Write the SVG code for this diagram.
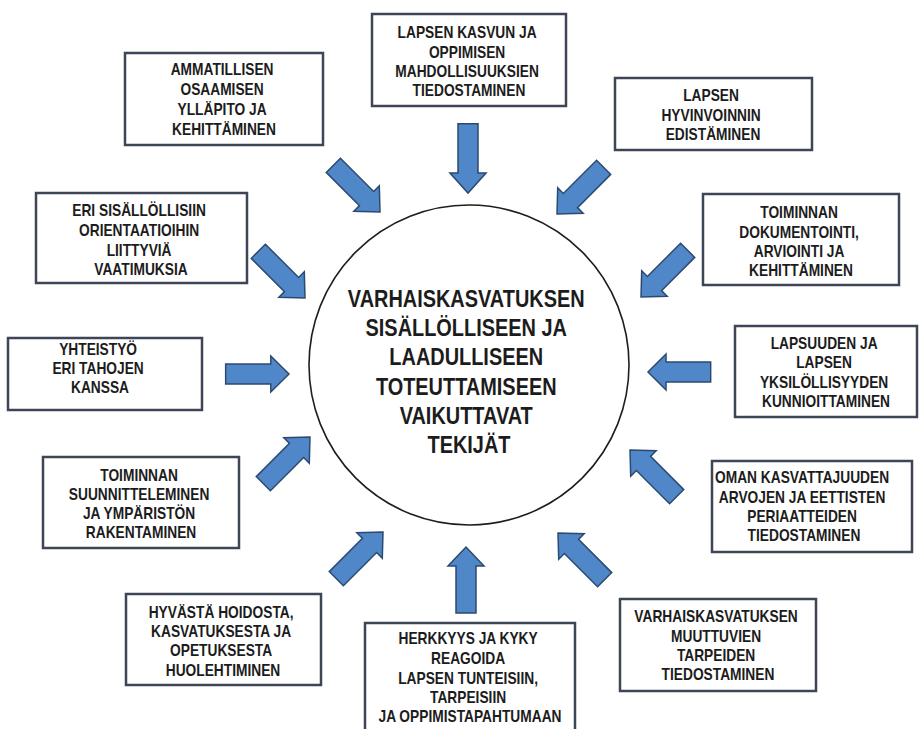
<svg xmlns="http://www.w3.org/2000/svg" xmlns:xlink="http://www.w3.org/1999/xlink" width="920" height="729" viewBox="0 0 920 729">
<style>
.box{fill:#fff;stroke:#3d4556;stroke-width:2.5}
.lbl{font-family:"Liberation Sans",Arial,sans-serif;font-weight:bold;font-size:16px;fill:#1c1c1c;text-anchor:middle}
.ctr{font-size:24px}
.arr{fill:#4f87c8;stroke:#2c4a70;stroke-width:1.5;stroke-linejoin:miter}
.circ{fill:#fff;stroke:#1e1e1e;stroke-width:1.6}
</style>
<defs>
<path id="arrow" d="M-66,-10 L-19,-10 L-19,-18 L0,0 L-19,18 L-19,10 L-66,10 Z"/>
</defs>
<rect x="0" y="0" width="920" height="729" fill="#fff"/>

<g id="center">
<circle class="circ" cx="469" cy="365" r="160"/>
<text class="lbl ctr" transform="translate(469 0) scale(0.83 1)">
<tspan x="0" y="307">VARHAISKASVATUKSEN</tspan>
<tspan x="0" y="336">SISÄLLÖLLISEEN JA</tspan>
<tspan x="0" y="365">LAADULLISEEN</tspan>
<tspan x="0" y="395">TOTEUTTAMISEEN</tspan>
<tspan x="0" y="424">VAIKUTTAVAT</tspan>
<tspan x="0" y="453">TEKIJÄT</tspan>
</text>
</g>

<g id="n-kasvun">
<rect class="box" x="372" y="14" width="194" height="92"/>
<text class="lbl" transform="translate(469 0) scale(0.86 1)">
<tspan x="0" y="38">LAPSEN KASVUN JA</tspan>
<tspan x="0" y="58">OPPIMISEN</tspan>
<tspan x="0" y="77">MAHDOLLISUUKSIEN</tspan>
<tspan x="0" y="96">TIEDOSTAMINEN</tspan>
</text>
</g>

<g id="n-ammatillisen">
<rect class="box" x="125" y="53" width="198" height="92"/>
<text class="lbl" transform="translate(224 0) scale(0.86 1)">
<tspan x="0" y="75">AMMATILLISEN</tspan>
<tspan x="0" y="95">OSAAMISEN</tspan>
<tspan x="0" y="115">YLLÄPITO JA</tspan>
<tspan x="0" y="135">KEHITTÄMINEN</tspan>
</text>
</g>

<g id="n-hyvinvointi">
<rect class="box" x="615" y="78" width="197" height="72"/>
<text class="lbl" transform="translate(713 0) scale(0.86 1)">
<tspan x="0" y="101">LAPSEN</tspan>
<tspan x="0" y="121">HYVINVOINNIN</tspan>
<tspan x="0" y="140">EDISTÄMINEN</tspan>
</text>
</g>

<g id="n-dokumentointi">
<rect class="box" x="703" y="194" width="196" height="91"/>
<text class="lbl" transform="translate(801 0) scale(0.86 1)">
<tspan x="0" y="218">TOIMINNAN</tspan>
<tspan x="0" y="238">DOKUMENTOINTI,</tspan>
<tspan x="0" y="257">ARVIOINTI JA</tspan>
<tspan x="0" y="276">KEHITTÄMINEN</tspan>
</text>
</g>

<g id="n-orientaatiot">
<rect class="box" x="36" y="193" width="211" height="90"/>
<text class="lbl" transform="translate(141 0) scale(0.86 1)">
<tspan x="0" y="216">ERI SISÄLLÖLLISIIN</tspan>
<tspan x="0" y="236">ORIENTAATIOIHIN</tspan>
<tspan x="0" y="256">LIITTYVIÄ</tspan>
<tspan x="0" y="275">VAATIMUKSIA</tspan>
</text>
</g>

<g id="n-yhteistyo">
<rect class="box" x="8" y="338" width="194" height="72"/>
<text class="lbl" transform="translate(100 0) scale(0.86 1)">
<tspan x="0" y="355">YHTEISTYÖ</tspan>
<tspan x="0" y="374">ERI TAHOJEN</tspan>
<tspan x="0" y="393">KANSSA</tspan>
</text>
</g>

<g id="n-suunnittelu">
<rect class="box" x="43" y="457" width="196" height="91"/>
<text class="lbl" transform="translate(141 0) scale(0.86 1)">
<tspan x="0" y="481">TOIMINNAN</tspan>
<tspan x="0" y="500">SUUNNITTELEMINEN</tspan>
<tspan x="0" y="519">JA YMPÄRISTÖN</tspan>
<tspan x="0" y="538">RAKENTAMINEN</tspan>
</text>
</g>

<g id="n-lapsuus">
<rect class="box" x="735" y="326" width="182" height="91"/>
<text class="lbl" transform="translate(826 0) scale(0.86 1)">
<tspan x="0" y="349">LAPSUUDEN JA</tspan>
<tspan x="0" y="368">LAPSEN</tspan>
<tspan x="0" y="388">YKSILÖLLISYYDEN</tspan>
<tspan x="0" y="407">KUNNIOITTAMINEN</tspan>
</text>
</g>

<g id="n-kasvattajuus">
<rect class="box" x="712" y="461" width="200" height="91"/>
<text class="lbl" transform="translate(804 0) scale(0.86 1)">
<tspan x="0" y="483">OMAN KASVATTAJUUDEN</tspan>
<tspan x="0" y="503">ARVOJEN JA EETTISTEN</tspan>
<tspan x="0" y="522">PERIAATTEIDEN</tspan>
<tspan x="0" y="541">TIEDOSTAMINEN</tspan>
</text>
</g>

<g id="n-hoito">
<rect class="box" x="126" y="594" width="195" height="91"/>
<text class="lbl" transform="translate(223 0) scale(0.86 1)">
<tspan x="0" y="618">HYVÄSTÄ HOIDOSTA,</tspan>
<tspan x="0" y="637">KASVATUKSESTA JA</tspan>
<tspan x="0" y="656">OPETUKSESTA</tspan>
<tspan x="0" y="676">HUOLEHTIMINEN</tspan>
</text>
</g>

<g id="n-herkkyys">
<rect class="box" x="365" y="623" width="210" height="125"/>
<text class="lbl" transform="translate(470 0) scale(0.86 1)">
<tspan x="0" y="644">HERKKYYS JA KYKY</tspan>
<tspan x="0" y="664">REAGOIDA</tspan>
<tspan x="0" y="684">LAPSEN TUNTEISIIN,</tspan>
<tspan x="0" y="703">TARPEISIIN</tspan>
<tspan x="0" y="722">JA OPPIMISTAPAHTUMAAN</tspan>
</text>
</g>

<g id="n-muuttuvat">
<rect class="box" x="620" y="599" width="196" height="92"/>
<text class="lbl" transform="translate(718 0) scale(0.86 1)">
<tspan x="0" y="622">VARHAISKASVATUKSEN</tspan>
<tspan x="0" y="642">MUUTTUVIEN</tspan>
<tspan x="0" y="661">TARPEIDEN</tspan>
<tspan x="0" y="680">TIEDOSTAMINEN</tspan>
</text>
</g>

<g id="connectors" class="arr">
<use xlink:href="#arrow" href="#arrow" transform="translate(468 193) rotate(90) scale(1.05 1)"/>
<use xlink:href="#arrow" href="#arrow" transform="translate(380 212) rotate(45)"/>
<use xlink:href="#arrow" href="#arrow" transform="translate(557 214) rotate(135)"/>
<use xlink:href="#arrow" href="#arrow" transform="translate(641 297) rotate(135)"/>
<use xlink:href="#arrow" href="#arrow" transform="translate(305 298) rotate(45)"/>
<use xlink:href="#arrow" href="#arrow" transform="translate(289 374) rotate(0) scale(0.96 1)"/>
<use xlink:href="#arrow" href="#arrow" transform="translate(310 437) rotate(-45)"/>
<use xlink:href="#arrow" href="#arrow" transform="translate(648 372) rotate(180) scale(0.95 1)"/>
<use xlink:href="#arrow" href="#arrow" transform="translate(630 450) rotate(225)"/>
<use xlink:href="#arrow" href="#arrow" transform="translate(383 532) rotate(-45)"/>
<use xlink:href="#arrow" href="#arrow" transform="translate(466 547) rotate(-90)"/>
<use xlink:href="#arrow" href="#arrow" transform="translate(558 533) rotate(225)"/>
</g>
</svg>
